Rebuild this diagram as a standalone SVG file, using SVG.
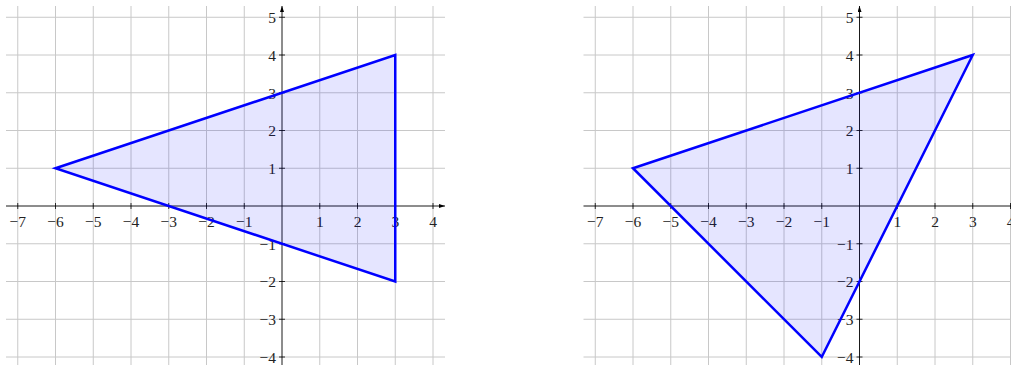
<svg xmlns="http://www.w3.org/2000/svg" width="1011" height="365" viewBox="0 0 1011 365">
<style>
.grid line{stroke:#c8c8c8;stroke-width:1;fill:none}
.axis{stroke:#000;stroke-width:0.9;fill:none}
.tick line{stroke:#000;stroke-width:0.8}
.lbl text{font-family:"Liberation Serif","Times New Roman",serif;font-size:15.5px;fill:#222}
.xl text{text-anchor:middle}
.yl text{text-anchor:end}
.tri{fill:#0000ff;fill-opacity:0.1;stroke:#0000ff;stroke-width:2.5;stroke-linejoin:miter}
</style>
<defs>
<marker id="arr" viewBox="0 0 6 4" refX="6" refY="2" markerWidth="6" markerHeight="4" markerUnits="userSpaceOnUse" orient="auto">
<path d="M0,0 L6,2 L0,4 Z" fill="#000"/>
</marker>
</defs>

<g id="plot-left" transform="translate(282,206)">
<g class="grid">
<line x1="-264.25" y1="-200" x2="-264.25" y2="165"/>
<line x1="-226.5" y1="-200" x2="-226.5" y2="165"/>
<line x1="-188.75" y1="-200" x2="-188.75" y2="165"/>
<line x1="-151" y1="-200" x2="-151" y2="165"/>
<line x1="-113.25" y1="-200" x2="-113.25" y2="165"/>
<line x1="-75.5" y1="-200" x2="-75.5" y2="165"/>
<line x1="-37.75" y1="-200" x2="-37.75" y2="165"/>
<line x1="37.75" y1="-200" x2="37.75" y2="165"/>
<line x1="75.5" y1="-200" x2="75.5" y2="165"/>
<line x1="113.25" y1="-200" x2="113.25" y2="165"/>
<line x1="151" y1="-200" x2="151" y2="165"/>
<line x1="-276" y1="-188.75" x2="163" y2="-188.75"/>
<line x1="-276" y1="-151" x2="163" y2="-151"/>
<line x1="-276" y1="-113.25" x2="163" y2="-113.25"/>
<line x1="-276" y1="-75.5" x2="163" y2="-75.5"/>
<line x1="-276" y1="-37.75" x2="163" y2="-37.75"/>
<line x1="-276" y1="37.75" x2="163" y2="37.75"/>
<line x1="-276" y1="75.5" x2="163" y2="75.5"/>
<line x1="-276" y1="113.25" x2="163" y2="113.25"/>
<line x1="-276" y1="151" x2="163" y2="151"/>
</g>
<g id="axes-left">
<line class="axis" x1="-276" y1="0" x2="163" y2="0" marker-end="url(#arr)"/>
<line class="axis" x1="0" y1="165" x2="0" y2="-200" marker-end="url(#arr)"/>
</g>
<g class="tick">
<line x1="-264.25" y1="-3" x2="-264.25" y2="3"/>
<line x1="-226.5" y1="-3" x2="-226.5" y2="3"/>
<line x1="-188.75" y1="-3" x2="-188.75" y2="3"/>
<line x1="-151" y1="-3" x2="-151" y2="3"/>
<line x1="-113.25" y1="-3" x2="-113.25" y2="3"/>
<line x1="-75.5" y1="-3" x2="-75.5" y2="3"/>
<line x1="-37.75" y1="-3" x2="-37.75" y2="3"/>
<line x1="37.75" y1="-3" x2="37.75" y2="3"/>
<line x1="75.5" y1="-3" x2="75.5" y2="3"/>
<line x1="113.25" y1="-3" x2="113.25" y2="3"/>
<line x1="151" y1="-3" x2="151" y2="3"/>
<line x1="-3" y1="-188.75" x2="3" y2="-188.75"/>
<line x1="-3" y1="-151" x2="3" y2="-151"/>
<line x1="-3" y1="-113.25" x2="3" y2="-113.25"/>
<line x1="-3" y1="-75.5" x2="3" y2="-75.5"/>
<line x1="-3" y1="-37.75" x2="3" y2="-37.75"/>
<line x1="-3" y1="37.75" x2="3" y2="37.75"/>
<line x1="-3" y1="75.5" x2="3" y2="75.5"/>
<line x1="-3" y1="113.25" x2="3" y2="113.25"/>
<line x1="-3" y1="151" x2="3" y2="151"/>
</g>
<g class="lbl xl">
<text x="-264.25" y="20.5">−7</text>
<text x="-226.5" y="20.5">−6</text>
<text x="-188.75" y="20.5">−5</text>
<text x="-151" y="20.5">−4</text>
<text x="-113.25" y="20.5">−3</text>
<text x="-75.5" y="20.5">−2</text>
<text x="-37.75" y="20.5">−1</text>
<text x="37.75" y="20.5">1</text>
<text x="75.5" y="20.5">2</text>
<text x="113.25" y="20.5">3</text>
<text x="151" y="20.5">4</text>
</g>
<g class="lbl yl">
<text x="-6" y="-183">5</text>
<text x="-6" y="-145.25">4</text>
<text x="-6" y="-107.5">3</text>
<text x="-6" y="-69.75">2</text>
<text x="-6" y="-32">1</text>
<text x="-6" y="43.5">−1</text>
<text x="-6" y="81.25">−2</text>
<text x="-6" y="119">−3</text>
<text x="-6" y="156.75">−4</text>
</g>
<g id="triangle-left">
<polygon class="tri" points="-226.5,-37.75 113.25,-151 113.25,75.5"/>
</g>
</g>

<g id="plot-right" transform="translate(859.5,206)">
<g class="grid">
<line x1="-264.25" y1="-200" x2="-264.25" y2="165"/>
<line x1="-226.5" y1="-200" x2="-226.5" y2="165"/>
<line x1="-188.75" y1="-200" x2="-188.75" y2="165"/>
<line x1="-151" y1="-200" x2="-151" y2="165"/>
<line x1="-113.25" y1="-200" x2="-113.25" y2="165"/>
<line x1="-75.5" y1="-200" x2="-75.5" y2="165"/>
<line x1="-37.75" y1="-200" x2="-37.75" y2="165"/>
<line x1="37.75" y1="-200" x2="37.75" y2="165"/>
<line x1="75.5" y1="-200" x2="75.5" y2="165"/>
<line x1="113.25" y1="-200" x2="113.25" y2="165"/>
<line x1="151" y1="-200" x2="151" y2="165"/>
<line x1="-276" y1="-188.75" x2="163" y2="-188.75"/>
<line x1="-276" y1="-151" x2="163" y2="-151"/>
<line x1="-276" y1="-113.25" x2="163" y2="-113.25"/>
<line x1="-276" y1="-75.5" x2="163" y2="-75.5"/>
<line x1="-276" y1="-37.75" x2="163" y2="-37.75"/>
<line x1="-276" y1="37.75" x2="163" y2="37.75"/>
<line x1="-276" y1="75.5" x2="163" y2="75.5"/>
<line x1="-276" y1="113.25" x2="163" y2="113.25"/>
<line x1="-276" y1="151" x2="163" y2="151"/>
</g>
<g id="axes-right">
<line class="axis" x1="-276" y1="0" x2="163" y2="0" marker-end="url(#arr)"/>
<line class="axis" x1="0" y1="165" x2="0" y2="-200" marker-end="url(#arr)"/>
</g>
<g class="tick">
<line x1="-264.25" y1="-3" x2="-264.25" y2="3"/>
<line x1="-226.5" y1="-3" x2="-226.5" y2="3"/>
<line x1="-188.75" y1="-3" x2="-188.75" y2="3"/>
<line x1="-151" y1="-3" x2="-151" y2="3"/>
<line x1="-113.25" y1="-3" x2="-113.25" y2="3"/>
<line x1="-75.5" y1="-3" x2="-75.5" y2="3"/>
<line x1="-37.75" y1="-3" x2="-37.75" y2="3"/>
<line x1="37.75" y1="-3" x2="37.75" y2="3"/>
<line x1="75.5" y1="-3" x2="75.5" y2="3"/>
<line x1="113.25" y1="-3" x2="113.25" y2="3"/>
<line x1="151" y1="-3" x2="151" y2="3"/>
<line x1="-3" y1="-188.75" x2="3" y2="-188.75"/>
<line x1="-3" y1="-151" x2="3" y2="-151"/>
<line x1="-3" y1="-113.25" x2="3" y2="-113.25"/>
<line x1="-3" y1="-75.5" x2="3" y2="-75.5"/>
<line x1="-3" y1="-37.75" x2="3" y2="-37.75"/>
<line x1="-3" y1="37.75" x2="3" y2="37.75"/>
<line x1="-3" y1="75.5" x2="3" y2="75.5"/>
<line x1="-3" y1="113.25" x2="3" y2="113.25"/>
<line x1="-3" y1="151" x2="3" y2="151"/>
</g>
<g class="lbl xl">
<text x="-264.25" y="20.5">−7</text>
<text x="-226.5" y="20.5">−6</text>
<text x="-188.75" y="20.5">−5</text>
<text x="-151" y="20.5">−4</text>
<text x="-113.25" y="20.5">−3</text>
<text x="-75.5" y="20.5">−2</text>
<text x="-37.75" y="20.5">−1</text>
<text x="37.75" y="20.5">1</text>
<text x="75.5" y="20.5">2</text>
<text x="113.25" y="20.5">3</text>
<text x="151" y="20.5">4</text>
</g>
<g class="lbl yl">
<text x="-6" y="-183">5</text>
<text x="-6" y="-145.25">4</text>
<text x="-6" y="-107.5">3</text>
<text x="-6" y="-69.75">2</text>
<text x="-6" y="-32">1</text>
<text x="-6" y="43.5">−1</text>
<text x="-6" y="81.25">−2</text>
<text x="-6" y="119">−3</text>
<text x="-6" y="156.75">−4</text>
</g>
<g id="triangle-right">
<polygon class="tri" points="-226.5,-37.75 113.25,-151 -37.75,151"/>
</g>
</g>
</svg>
